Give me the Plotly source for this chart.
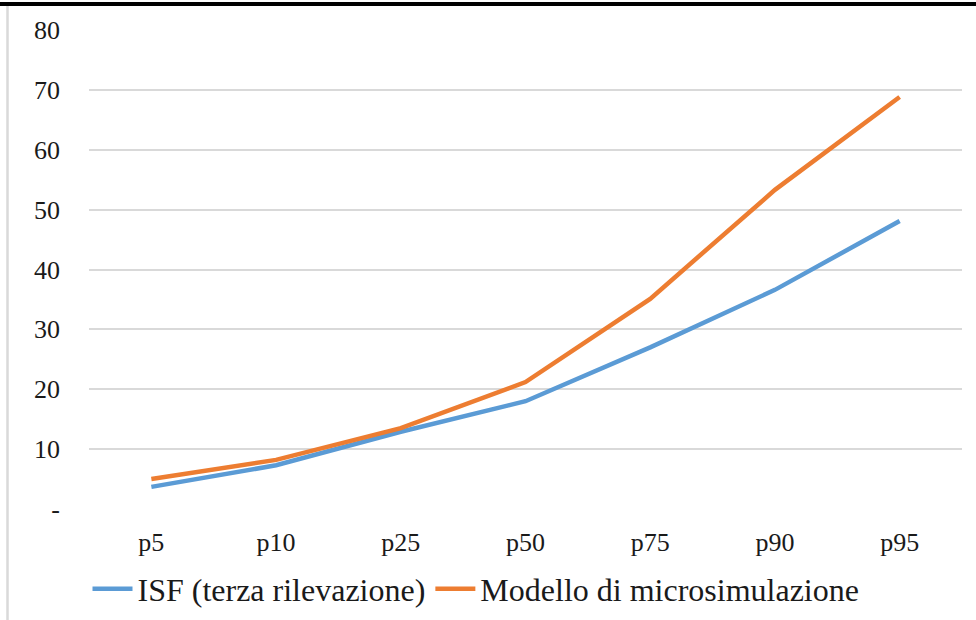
import plotly.graph_objects as go

# percentili e valori
percentili = ["p5", "p10", "p25", "p50", "p75", "p90", "p95"]
isf = [3.7, 7.3, 12.9, 18.0, 27.0, 36.6, 48.1]
modello = [5.0, 8.2, 13.5, 21.2, 35.1, 53.3, 68.8]
y_ticks = [0, 10, 20, 30, 40, 50, 60, 70, 80]
y_labels = ["-", "10", "20", "30", "40", "50", "60", "70", "80"]

W, H = 976, 620
L, R, T, B = 89, 14, 30, 111
pw, ph = W - L - R, H - T - B


def px_x(x):
    return (x - L) / pw


def px_y(y):
    return (H - B - y) / ph


fig = go.Figure()
fig.add_trace(go.Scatter(x=percentili, y=isf, name="ISF (terza rilevazione)", mode="lines",
                         line=dict(color="#5B9BD5", width=4.5)))
fig.add_trace(go.Scatter(x=percentili, y=modello, name="Modello di microsimulazione", mode="lines",
                         line=dict(color="#ED7D31", width=4.5)))

# cornice: riga nera in alto, riga grigia a sinistra
fig.add_shape(type="line", xref="paper", yref="paper", x0=px_x(0), x1=px_x(W), y0=px_y(4), y1=px_y(4),
              line=dict(color="black", width=4))
fig.add_shape(type="line", xref="paper", yref="paper", x0=px_x(7.5), x1=px_x(7.5), y0=px_y(6), y1=px_y(H),
              line=dict(color="#d9d9d9", width=2.5))

fig.update_layout(
    width=W, height=H, margin=dict(l=L, r=R, t=T, b=B, autoexpand=False),
    paper_bgcolor="white", plot_bgcolor="white",
    font=dict(family="Liberation Serif", size=26, color="#1a1a1a"),
    showlegend=True,
    legend=dict(orientation="h", x=px_x(476), xanchor="center", y=px_y(589), yanchor="middle",
                font=dict(size=32), itemwidth=40, tracegroupgap=0),
)
fig.update_xaxes(range=[-0.5, 6.5], showgrid=False, showline=False, zeroline=False,
                 ticks="", ticklabelstandoff=15, automargin=False)
fig.update_yaxes(range=[0, 80], tickvals=y_ticks, ticktext=y_labels, showgrid=True,
                 gridcolor="#d9d9d9", gridwidth=1.5, zeroline=False, showline=False,
                 ticks="", ticklabelstandoff=28, automargin=False)
# la pagina ha un margine di 8px sul body: lo azzero per allineare la figura
fig.write_html("out.html", config={"displayModeBar": False},
               post_script="document.body.style.margin='0';")
